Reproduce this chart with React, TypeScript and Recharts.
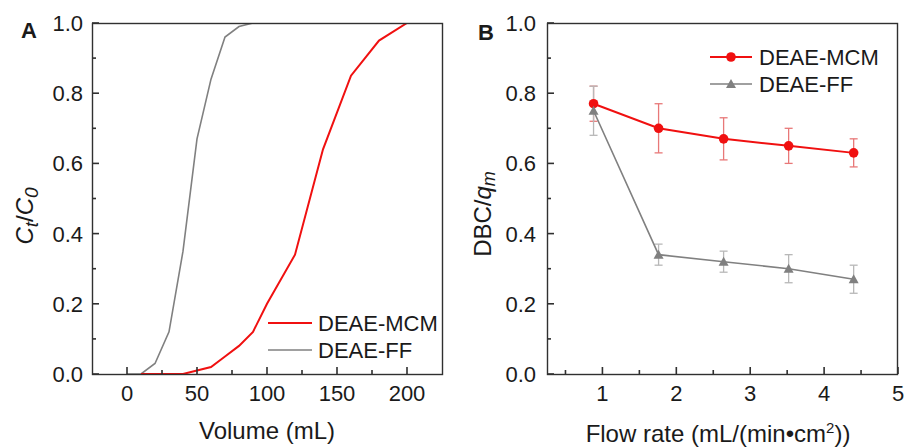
import { LineChart, Line, XAxis, YAxis, ErrorBar } from "recharts";

// panel A: breakthrough curves
const volumeMcm = [10, 20, 30, 40, 50, 60, 70, 80, 90, 100, 120, 140, 160, 180, 200, 220];
const ratioMcm = [0, 0, 0, 0, 0.01, 0.02, 0.05, 0.08, 0.12, 0.2, 0.34, 0.64, 0.85, 0.95, 1.0, 1.0];
const volumeFf = [0, 10, 20, 30, 40, 50, 60, 70, 80, 90];
const ratioFf = [0, 0, 0.03, 0.12, 0.35, 0.67, 0.84, 0.96, 0.99, 1.0];

// panel B: DBC vs flow rate
const flowRate = [0.88, 1.76, 2.64, 3.52, 4.4];
const dbcMcm = [0.77, 0.7, 0.67, 0.65, 0.63];
const dbcMcmErr = [0.05, 0.07, 0.06, 0.05, 0.04];
const dbcFf = [0.75, 0.34, 0.32, 0.3, 0.27];
const dbcFfErr = [0.07, 0.03, 0.03, 0.04, 0.04];

const volTicks = [0, 50, 100, 150, 200];
const volMinor = [25, 75, 125, 175];
const ratioTicks = [0, 0.2, 0.4, 0.6, 0.8, 1.0];
const ratioMinor = [0.1, 0.3, 0.5, 0.7, 0.9];
const flowTicks = [1, 2, 3, 4, 5];
const flowMinor = [0.5, 1.5, 2.5, 3.5, 4.5];

const FONT = '"Liberation Sans", Arial, sans-serif';
const INK = "#1a1a1a";
const RED = "#f01010";
const GRAY = "#808080";
const FRAME = "#303030";

const mcmCurve = volumeMcm.map((x, i) => ({ x, y: ratioMcm[i] }));
const ffCurve = volumeFf.map((x, i) => ({ x, y: ratioFf[i] }));
const dbcData = flowRate.map((x, i) => ({
  x,
  mcm: dbcMcm[i],
  mcmErr: dbcMcmErr[i],
  ff: dbcFf[i],
  ffErr: dbcFfErr[i],
}));

const isMajor = (v: number, majors: number[]) =>
  majors.some((m) => Math.abs(m - v) < 1e-6);

// inward tick marks + labels
function BottomTick(props: any) {
  const { x, y, payload, majors } = props;
  const major = isMajor(payload.value, majors);
  const len = major ? 7 : 4;
  return (
    <g>
      <rect x={x - 0.8} y={y - len} width={1.6} height={len} fill={FRAME} />
      {major && (
        <text x={x} y={y + 27} textAnchor="middle" fontSize={22} fontFamily={FONT} fill={INK}>
          {payload.value}
        </text>
      )}
    </g>
  );
}

function LeftTick(props: any) {
  const { x, y, payload, majors, gap } = props;
  const major = isMajor(payload.value, majors);
  const len = major ? 7 : 4;
  return (
    <g>
      <rect x={x} y={y - 0.8} width={len} height={1.6} fill={FRAME} />
      {major && (
        <text x={x - gap} y={y + 8} textAnchor="end" fontSize={22} fontFamily={FONT} fill={INK}>
          {payload.value.toFixed(1)}
        </text>
      )}
    </g>
  );
}

function Triangle(props: any) {
  const { cx, cy } = props;
  if (cx == null || cy == null) return null;
  return <polygon points={`${cx - 5},${cy + 4} ${cx + 5},${cy + 4} ${cx},${cy - 5}`} fill={GRAY} />;
}

function Dot(props: any) {
  const { cx, cy } = props;
  if (cx == null || cy == null) return null;
  return <circle cx={cx} cy={cy} r={4.8} fill={RED} />;
}

function axes(xDomain: number[], xMajor: number[], xMinor: number[], yGap: number) {
  return [
    <XAxis key="x" dataKey="x" type="number" domain={xDomain} ticks={[...xMajor, ...xMinor]} interval={0}
      allowDataOverflow height={30} axisLine={false} tickLine={false}
      tickSize={0} tickMargin={0} tick={(p: any) => <BottomTick {...p} majors={xMajor} />} />,
    <YAxis key="y" type="number" domain={[0, 1]} ticks={[...ratioTicks, ...ratioMinor]} interval={0}
      allowDataOverflow width={60} axisLine={false} tickLine={false}
      tickSize={0} tickMargin={0} tick={(p: any) => <LeftTick {...p} majors={ratioTicks} gap={yGap} />} />,
  ];
}

export default function App() {
  return (
    <div style={{ position: "absolute", left: 0, top: 0, width: 916, height: 447, background: "#fff", fontFamily: FONT }}>
      <div style={{ position: "absolute", left: 0, top: 0 }}>
        <LineChart width={460} height={447} margin={{ top: 23, right: 18, bottom: 43, left: 32 }}>
          {axes([-25, 225], volTicks, volMinor, 9)}
          <Line data={ffCurve} dataKey="y" stroke={GRAY} strokeWidth={1.6} dot={false} isAnimationActive={false} />
          <Line data={mcmCurve} dataKey="y" stroke={RED} strokeWidth={2} dot={false} isAnimationActive={false} />
        </LineChart>
      </div>

      <div style={{ position: "absolute", left: 460, top: 0 }}>
        <LineChart data={dbcData} width={456} height={447} margin={{ top: 23, right: 18, bottom: 43, left: 27 }}>
          {axes([0.25, 5], flowTicks, flowMinor, 11)}
          <Line dataKey="mcm" stroke={RED} strokeWidth={2} dot={<Dot />} isAnimationActive={false}>
            <ErrorBar dataKey="mcmErr" width={4} stroke="#e87878" strokeWidth={1.3} direction="y" />
          </Line>
          <Line dataKey="ff" stroke={GRAY} strokeWidth={1.6} dot={<Triangle />} isAnimationActive={false}>
            <ErrorBar dataKey="ffErr" width={4} stroke="#b8b8b8" strokeWidth={1.3} direction="y" />
          </Line>
        </LineChart>
      </div>

      <svg width={916} height={447} style={{ position: "absolute", left: 0, top: 0, pointerEvents: "none" }} fontFamily={FONT} fill={INK}>
        {/* plot frames */}
        <rect x={92.5} y={23.5} width={350} height={351} fill="none" stroke={FRAME} strokeWidth={1.4} />
        <rect x={547.5} y={23.5} width={350} height={351} fill="none" stroke={FRAME} strokeWidth={1.4} />

        <text x={21} y={38} fontSize={22} fontWeight="bold">A</text>
        <text x={478} y={40} fontSize={22} fontWeight="bold">B</text>

        <text x={267} y={439} fontSize={24} textAnchor="middle">Volume (mL)</text>
        <text x={718} y={442} fontSize={24} textAnchor="middle">
          Flow rate (mL/(min•cm<tspan fontSize={15} dy={-9}>2</tspan>
          <tspan dy={9}>))</tspan>
        </text>

        <text transform="translate(33,216) rotate(-90)" fontSize={24} textAnchor="middle">
          <tspan fontStyle="italic">C</tspan>
          <tspan fontStyle="italic" fontSize={19} dy={5}>t</tspan>
          <tspan dy={-5}>/</tspan>
          <tspan fontStyle="italic">C</tspan>
          <tspan fontStyle="italic" fontSize={19} dy={5}>0</tspan>
        </text>
        <text transform="translate(491,214) rotate(-90)" fontSize={24} textAnchor="middle">
          DBC/<tspan fontStyle="italic">q</tspan>
          <tspan fontStyle="italic" fontSize={18} dy={4}>m</tspan>
        </text>

        <line x1={268} x2={312} y1={323} y2={323} stroke={RED} strokeWidth={2} />
        <text x={318} y={331} fontSize={22}>DEAE-MCM</text>
        <line x1={268} x2={312} y1={350} y2={350} stroke={GRAY} strokeWidth={1.6} />
        <text x={318} y={358} fontSize={22}>DEAE-FF</text>

        <line x1={710} x2={752} y1={57} y2={57} stroke={RED} strokeWidth={2} />
        <circle cx={731} cy={57} r={4.8} fill={RED} />
        <text x={759} y={65} fontSize={22}>DEAE-MCM</text>
        <line x1={710} x2={752} y1={84} y2={84} stroke={GRAY} strokeWidth={1.6} />
        <polygon points="726,88 736,88 731,79" fill={GRAY} />
        <text x={759} y={92} fontSize={22}>DEAE-FF</text>
      </svg>
    </div>
  );
}
